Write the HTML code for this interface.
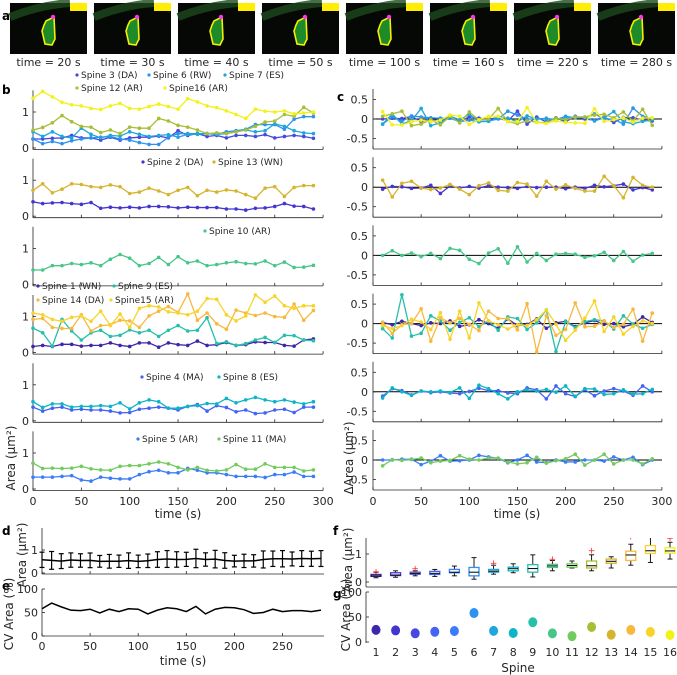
<!DOCTYPE html>
<html><head><meta charset="utf-8"><style>
html,body{margin:0;padding:0;background:#fff;}
svg{display:block;font-family:"DejaVu Sans","Liberation Sans",sans-serif;}
</style></head><body>
<svg id="chart" width="677" height="675" viewBox="0 0 677 675" xmlns="http://www.w3.org/2000/svg"></svg>
<script>
const times=[0,10,20,30,40,50,60,70,80,90,100,110,120,130,140,150,160,170,180,190,200,210,220,230,240,250,260,270,280,290];
const s1=[0.17,0.2,0.17,0.23,0.23,0.18,0.2,0.2,0.27,0.2,0.17,0.27,0.27,0.15,0.27,0.22,0.2,0.32,0.2,0.22,0.28,0.2,0.22,0.3,0.28,0.28,0.2,0.18,0.35,0.38];
const s2=[0.4,0.35,0.37,0.38,0.35,0.33,0.38,0.22,0.25,0.23,0.25,0.23,0.27,0.27,0.26,0.23,0.25,0.24,0.24,0.24,0.2,0.2,0.17,0.22,0.23,0.27,0.35,0.28,0.27,0.2];
const s3=[0.25,0.25,0.27,0.28,0.35,0.28,0.28,0.22,0.3,0.22,0.28,0.3,0.3,0.33,0.28,0.48,0.35,0.4,0.32,0.35,0.28,0.35,0.35,0.32,0.37,0.28,0.32,0.35,0.32,0.27];
const s4=[0.38,0.27,0.35,0.38,0.3,0.32,0.3,0.3,0.27,0.22,0.23,0.32,0.35,0.38,0.35,0.3,0.4,0.45,0.27,0.42,0.37,0.25,0.3,0.2,0.22,0.3,0.32,0.23,0.38,0.38];
const s5=[0.33,0.33,0.33,0.35,0.37,0.25,0.22,0.33,0.3,0.28,0.28,0.4,0.48,0.52,0.45,0.45,0.57,0.52,0.45,0.45,0.4,0.35,0.35,0.35,0.32,0.4,0.4,0.47,0.35,0.35];
const s6=[0.25,0.12,0.18,0.12,0.2,0.25,0.28,0.3,0.32,0.25,0.22,0.15,0.1,0.1,0.3,0.4,0.4,0.4,0.4,0.38,0.45,0.48,0.52,0.65,0.65,0.65,0.52,0.8,0.87,0.87];
const s7=[0.45,0.32,0.45,0.32,0.28,0.55,0.38,0.28,0.35,0.33,0.45,0.38,0.32,0.35,0.37,0.3,0.38,0.38,0.4,0.38,0.4,0.45,0.5,0.45,0.48,0.67,0.6,0.48,0.42,0.4];
const s8=[0.53,0.37,0.47,0.47,0.38,0.4,0.4,0.42,0.4,0.5,0.33,0.5,0.58,0.53,0.35,0.35,0.4,0.42,0.48,0.47,0.62,0.5,0.58,0.65,0.58,0.53,0.58,0.52,0.47,0.53];
const s9=[0.68,0.55,0.18,0.92,0.6,0.35,0.55,0.62,0.45,0.48,0.63,0.55,0.62,0.45,0.62,0.75,0.6,0.62,0.97,0.25,0.3,0.2,0.25,0.35,0.42,0.28,0.48,0.47,0.35,0.33];
const s10=[0.4,0.4,0.52,0.52,0.58,0.55,0.6,0.52,0.7,0.83,0.73,0.52,0.58,0.75,0.55,0.77,0.6,0.65,0.52,0.55,0.6,0.63,0.58,0.57,0.65,0.52,0.62,0.47,0.48,0.53];
const s11=[0.72,0.57,0.58,0.57,0.58,0.63,0.56,0.53,0.52,0.63,0.65,0.65,0.7,0.75,0.7,0.6,0.53,0.6,0.52,0.5,0.53,0.68,0.55,0.55,0.7,0.6,0.6,0.6,0.5,0.53];
const s12=[0.5,0.57,0.7,0.9,0.73,0.6,0.58,0.43,0.5,0.4,0.58,0.55,0.55,0.82,0.75,0.63,0.58,0.5,0.4,0.42,0.4,0.45,0.5,0.6,0.72,0.75,0.93,0.88,1.13,0.97];
const s13=[0.72,0.9,0.65,0.75,0.9,0.88,0.82,0.8,0.87,0.82,0.63,0.67,0.78,0.7,0.6,0.72,0.8,0.57,0.72,0.67,0.73,0.7,0.6,0.5,0.78,0.82,0.55,0.8,0.85,0.85];
const s14=[0.92,0.95,0.7,0.67,0.67,1.05,0.6,0.75,0.77,0.9,0.88,0.7,1.02,1.15,1.28,1.12,1.63,0.9,1.1,0.8,0.65,1.18,1.1,1.03,1.1,1.0,0.98,1.35,0.9,1.17];
const s15=[1.1,1.05,0.92,0.87,0.98,1.02,0.87,1.15,0.75,1.07,0.7,1.23,1.3,1.27,1.13,1.1,1.05,1.15,1.5,1.48,1.05,0.88,1.02,1.6,1.4,1.57,1.3,1.23,1.3,1.3];
const s16=[1.38,1.57,1.42,1.27,1.2,1.17,1.1,1.07,1.17,1.24,1.1,1.08,1.15,1.22,1.15,1.08,1.37,1.28,1.17,1.12,1.03,0.93,0.82,1.08,1.02,1.0,1.03,0.95,0.97,1.0];
const cvTime=[58,70,62,55,54,57,49,57,52,58,57,47,55,60,58,52,63,47,57,61,60,56,48,50,57,52,54,54,52,55];
const spineLabels=["Spine 1 (WN)","Spine 2 (DA)","Spine 3 (DA)","Spine 4 (MA)","Spine 5 (AR)","Spine 6 (RW)","Spine 7 (ES)","Spine 8 (ES)","Spine 9 (ES)","Spine 10 (AR)","Spine 11 (MA)","Spine 12 (AR)","Spine 13 (WN)","Spine 14 (DA)","Spine15 (AR)","Spine16 (AR)"];
const imageTimes=["20","30","40","50","100","160","220","280"];
const bTicks=[0,1];
const cTicks=[-0.5,0,0.5];
const xTicks=[0,50,100,150,200,250,300];
const eXTicks=[0,50,100,150,200,250];
const eYTicks=[0,50,100];

const series=[s1,s2,s3,s4,s5,s6,s7,s8,s9,s10,s11,s12,s13,s14,s15,s16];
const colors=["#3e26a8","#4435d0","#4748e0","#4563f3","#3a7df9","#2b92ef","#1fa6dc","#0bb5c6","#26bfa9","#46c689","#72cb5e","#a6bf34","#d6b42e","#f7b93d","#f7d427","#f2f11a"];
const groups=[[2,5,6,11,15],[1,12],[9],[0,8,13,14],[3,7],[4,10]];
const NS="http://www.w3.org/2000/svg";
const svg=document.getElementById('chart');
const TXT="#262626";
function mk(tag,attrs,parent){const e=document.createElementNS(NS,tag);for(const k in attrs)e.setAttribute(k,attrs[k]);(parent||svg).appendChild(e);return e;}
function ln(x1,y1,x2,y2,stroke,w,name,parent){const e=mk('line',{x1:x1,y1:y1,x2:x2,y2:y2,stroke:stroke,'stroke-width':w},parent);


return e;}
function tx(x,y,str,size,anchor,name,extra,parent){const e=mk('text',Object.assign({x:x,y:y,'font-size':size,'text-anchor':anchor||'start',fill:TXT},extra||{}),parent);e.textContent=str;


return e;}
function grp(name){const g=mk('g',{});


return g;}

// panel labels
[["a",2,20],["b",2,94],["c",337,101],["d",2,535],["e",2,590],["f",333,535],["g",333,598]].forEach(p=>{tx(p[1],p[2],p[0],12,'start','panel-label-'+p[0],{'font-weight':'bold',fill:'#000'});});

// panel a images
imageTimes.forEach((t,i)=>{
  const g=grp('image-time-'+t);
  const x0=10+i*84, y0=3;
  const r=mk('rect',{x:x0,y:y0,width:77,height:51,fill:'#050805'},g);
  
  
  const d=mk('path',{d:`M${x0} ${y0+14} Q${x0+30} ${y0+2} ${x0+60} ${y0}`,stroke:'#1d4a1d','stroke-width':8,fill:'none',opacity:0.8},g);
  
  
  const yb=mk('rect',{x:x0+60,y:y0,width:17,height:8,fill:'#ffee00'},g);
  
  
  const cx=x0+40, cy=y0+28;
  const sp=mk('polygon',{points:`${cx-4},${cy-10} ${cx+4},${cy-14} ${cx+5},${cy+8} ${cx+2},${cy+14} ${cx-5},${cy+13} ${cx-8},${cy} ${cx-6},${cy-6}`,fill:'#1f8a2a',stroke:'#f4f000','stroke-width':1.6},g);
  
  
  const m=mk('circle',{cx:cx+3,cy:cy-14,r:2.2,fill:'#ff33ee'},g);
  
  
  tx(x0+38.5,66,'time = '+t+' s',11,'middle','image-time-label',{},g);
});

function drawSeries(g,vals,xs,ys,color,name,startIdx){
  let pts=[];
  for(let k=0;k<vals.length;k++){pts.push(xs(times[k+startIdx])+','+ys(vals[k]));}
  const pl=mk('polyline',{points:pts.join(' '),fill:'none',stroke:color,'stroke-width':1.3},g);
  
  
  for(let k=0;k<vals.length;k++){
    const c=mk('circle',{cx:xs(times[k+startIdx]),cy:ys(vals[k]),r:1.8,fill:color},g);
    
    
  }
}

// panel b
const xb=t=>33+t*0.967;
const legendB=[
 [[2,77,78],[5,149,78],[6,225,78],[11,77,91],[15,165,91]],
 [[1,143,165],[12,214,165]],
 [[9,205,234]],
 [[0,38,289],[8,114,289],[13,38,303],[14,111,303]],
 [[3,142,380],[7,219,380]],
 [[4,138,442],[10,219,442]]];
groups.forEach((gi,i)=>{
  const g=grp('panel-b-subplot-'+(i+1));
  const y0=148+i*68.2;
  const yb=v=>y0-v*36;
  const top=y0-57.6;
  ln(33,top,33,y0+1.5,TXT,0.8,'y-axis',g);
  ln(33,y0+1.5,323,y0+1.5,TXT,0.8,'x-axis',g);
  bTicks.forEach(v=>{ln(33,yb(v),36,yb(v),TXT,0.8,'y-tick',g);tx(29,yb(v)+4,String(v),11,'end','y-tick-label',{},g);});
  xTicks.forEach(v=>{ln(xb(v),y0+1.5,xb(v),y0-1.5,TXT,0.8,'x-tick',g);if(i===5)tx(xb(v),y0+16,String(v),11,'middle','x-tick-label',{},g);});
  gi.forEach(si=>drawSeries(g,series[si],xb,yb,colors[si],'spine-'+(si+1),0));
  legendB[i].forEach(L=>{
    const c=mk('circle',{cx:L[1],cy:L[2]-3,r:1.6,fill:colors[L[0]]},g);
    
    
    tx(L[1]+4,L[2],spineLabels[L[0]],9,'start','legend-entry',{},g);
  });
});
tx(178,518,'time (s)',12,'middle','x-axis-title-b');
tx(15,458,'Area (μm²)',12,'middle','y-axis-title-b',{transform:'rotate(-90 15 458)'});

// panel c (frame-to-frame change)
const xc=t=>373+t*0.963;
groups.forEach((gi,i)=>{
  const g=grp('panel-c-subplot-'+(i+1));
  const y0=119+i*68.2;
  const yc=v=>y0-v*39;
  ln(373,y0-30,373,y0+30,TXT,0.8,'y-axis',g);
  ln(373,y0+30,662,y0+30,TXT,0.8,'x-axis',g);
  ln(373,y0,662,y0,'#000',1,'zero-line',g);
  cTicks.forEach(v=>{ln(373,yc(v),376,yc(v),TXT,0.8,'y-tick',g);tx(368,yc(v)+4,String(v),11,'end','y-tick-label',{},g);});
  xTicks.forEach(v=>{ln(xc(v),y0+30,xc(v),y0+27,TXT,0.8,'x-tick',g);if(i===5)tx(xc(v),y0+45,String(v),11,'middle','x-tick-label',{},g);});
  gi.forEach(si=>{const a=series[si];const d=[];for(let k=1;k<a.length;k++)d.push(+(a[k]-a[k-1]).toFixed(3));drawSeries(g,d,xc,yc,colors[si],'spine-'+(si+1)+'-delta',1);});
});
tx(517,518,'time (s)',12,'middle','x-axis-title-c');
tx(353,458,'ΔArea (μm²)',12,'middle','y-axis-title-c',{transform:'rotate(-90 353 458)'});

// stats helpers
function mean(a){return a.reduce((s,v)=>s+v,0)/a.length;}
function sd(a){const m=mean(a);return Math.sqrt(a.reduce((s,v)=>s+(v-m)*(v-m),0)/(a.length-1));}
function quant(a,p){const s=[...a].sort((x,y)=>x-y);const n=s.length;const pos=p*n-0.5;if(pos<=0)return s[0];if(pos>=n-1)return s[n-1];const lo=Math.floor(pos);return s[lo]+(pos-lo)*(s[lo+1]-s[lo]);}

// panel d
{
  const g=grp('panel-d');
  const xd=t=>42+t*0.962;
  const yd=v=>573-v*23;
  ln(42,528,42,574,TXT,0.8,'y-axis',g);
  ln(42,574,324,574,TXT,0.8,'x-axis',g);
  bTicks.forEach(v=>{ln(42,yd(v),45,yd(v),TXT,0.8,'y-tick',g);tx(38,yd(v)+4,String(v),11,'end','y-tick-label',{},g);});
  eXTicks.forEach(v=>ln(xd(v),574,xd(v),571,TXT,0.8,'x-tick',g));
  const ms=[],ss=[];
  for(let k=0;k<times.length;k++){const col=series.map(s=>s[k]);ms.push(mean(col));ss.push(sd(col));}
  const pl=mk('polyline',{points:ms.map((m,k)=>xd(times[k])+','+yd(m)).join(' '),fill:'none',stroke:'#000','stroke-width':1.5},g);
  
  
  ms.forEach((m,k)=>{const x=xd(times[k]);ln(x,yd(m-ss[k]),x,yd(m+ss[k]),'#000',1.2,'error-bar',g);ln(x-2.5,yd(m-ss[k]),x+2.5,yd(m-ss[k]),'#000',1.2,'error-cap',g);ln(x-2.5,yd(m+ss[k]),x+2.5,yd(m+ss[k]),'#000',1.2,'error-cap',g);});
  tx(26,555,'Area (μm²)',12,'middle','y-axis-title-d',{transform:'rotate(-90 26 555)'});
}
// panel e
{
  const g=grp('panel-e');
  const xe=t=>42+t*0.962;
  const ye=v=>636-v*0.47;
  ln(42,589,42,636,TXT,0.8,'y-axis',g);
  ln(42,636,324,636,TXT,0.8,'x-axis',g);
  eYTicks.forEach(v=>{ln(42,ye(v),45,ye(v),TXT,0.8,'y-tick',g);tx(38,ye(v)+4,String(v),11,'end','y-tick-label',{},g);});
  eXTicks.forEach(v=>{ln(xe(v),636,xe(v),633,TXT,0.8,'x-tick',g);tx(xe(v),650,String(v),11,'middle','x-tick-label',{},g);});
  const pl=mk('polyline',{points:cvTime.map((v,k)=>xe(times[k])+','+ye(v)).join(' '),fill:'none',stroke:'#000','stroke-width':1.5},g);
  
  
  tx(183,665,'time (s)',12,'middle','x-axis-title-e');
  tx(13,614,'CV Area (%)',12,'middle','y-axis-title-e',{transform:'rotate(-90 13 614)'});
}
// panel f boxplots
{
  const g=grp('panel-f');
  const xf=i=>376+(i-1)*19.6;
  const yf=v=>582-v*28;
  const clip=mk('clipPath',{id:'fclip'},g);mk('rect',{x:360,y:538,width:317,height:50},clip);
  ln(366,538,366,587,TXT,0.8,'y-axis',g);
  ln(366,587,677,587,TXT,0.8,'x-axis',g);
  bTicks.forEach(v=>{ln(366,yf(v),369,yf(v),TXT,0.8,'y-tick',g);tx(362,yf(v)+4,String(v),11,'end','y-tick-label',{},g);});
  const inner=mk('g',{'clip-path':'url(#fclip)'},g);
  series.forEach((s,i)=>{
    const sp=i+1,x=xf(sp);
    const q1=quant(s,0.25),q3=quant(s,0.75),md=quant(s,0.5),iqr=q3-q1;
    const inl=s.filter(v=>v>=q1-1.5*iqr&&v<=q3+1.5*iqr);
    const lo=Math.min(...inl),hi=Math.max(...inl);
    ln(x,yf(hi),x,yf(q3),'#000',0.9,'whisker-upper',inner);
    ln(x,yf(q1),x,yf(lo),'#000',0.9,'whisker-lower',inner);
    ln(x-2.5,yf(hi),x+2.5,yf(hi),'#000',0.9,'whisker-cap',inner);
    ln(x-2.5,yf(lo),x+2.5,yf(lo),'#000',0.9,'whisker-cap',inner);
    const b=mk('rect',{x:x-5,y:yf(q3),width:10,height:Math.max(0.5,yf(q1)-yf(q3)),fill:'none',stroke:colors[i],'stroke-width':1.3},inner);
    
    
    ln(x-5,yf(md),x+5,yf(md),'#000',1,'median-line',inner);
    s.filter(v=>v<q1-1.5*iqr||v>q3+1.5*iqr).forEach(v=>{const o=tx(x,yf(v)+3,'+',9,'middle','outlier',{fill:'#ff2020'},inner);});
  });
  tx(352,560,'Area (μm²)',12,'middle','y-axis-title-f',{transform:'rotate(-90 352 560)'});
}
// panel g
{
  const g=grp('panel-g');
  const xg=i=>376+(i-1)*19.6;
  const yg=v=>642-v*0.5;
  ln(366,592,366,643,TXT,0.8,'y-axis',g);
  eYTicks.forEach(v=>{ln(366,yg(v),369,yg(v),TXT,0.8,'y-tick',g);tx(362,yg(v)+4,String(v),11,'end','y-tick-label',{},g);});
  series.forEach((s,i)=>{
    const cv=sd(s)/mean(s)*100;
    const c=mk('ellipse',{cx:xg(i+1),cy:yg(cv),rx:4.5,ry:5,fill:colors[i]},g);
    
    
    tx(xg(i+1),656,String(i+1),11,'middle','x-tick-label',{},g);
  });
  tx(518,672,'Spine',12,'middle','x-axis-title-g');
  tx(350,615,'CV Area (%)',12,'middle','y-axis-title-g',{transform:'rotate(-90 350 615)'});
}
</script>
</body></html>
